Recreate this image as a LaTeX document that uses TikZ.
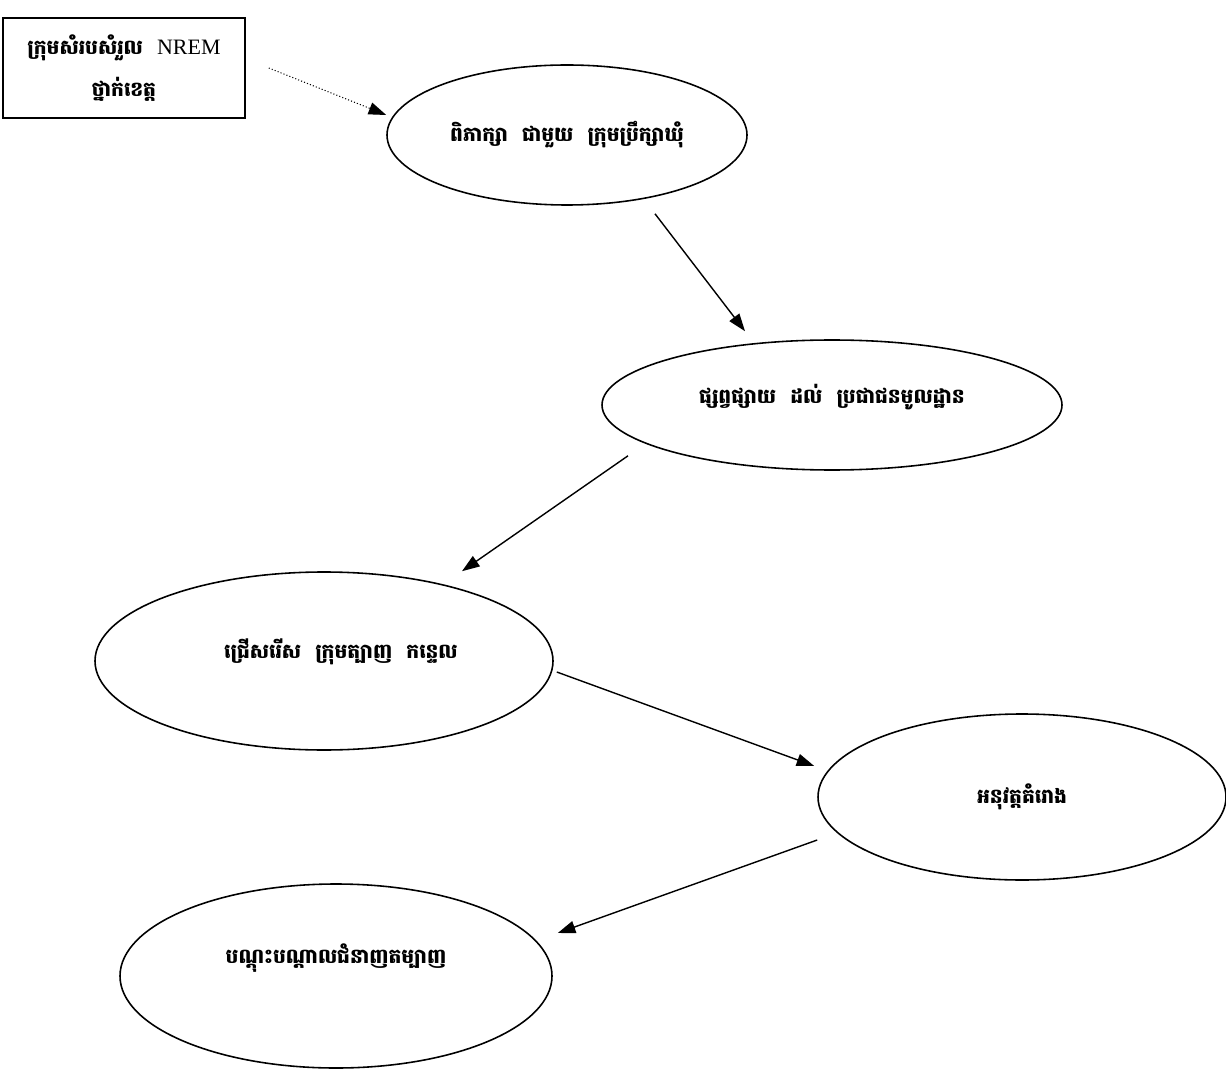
\documentclass[tikz,border=0pt]{standalone}
\usepackage{fontspec}
\setmainfont{Liberation Serif}
\newfontfamily\khmer[Script=Khmer]{Battambang}
\usetikzlibrary{shapes.geometric,arrows.meta}
\newcommand{\gap}{\hspace{0.7em}}
\begin{document}
\begin{tikzpicture}[
  x=1cm, y=1cm,
  kmtext/.style={font=\khmer\bfseries\fontsize{11.5}{13}\selectfont},
  bubble/.style={ellipse, draw, line width=0.9pt, inner sep=0pt, kmtext},
  inner/.style={kmtext, inner sep=0pt},
  flow/.style={-{Triangle[length=10pt,width=7pt]}, line width=0.8pt},
]
\useasboundingbox (0,0) rectangle (24.52,-21.46);
% provincial coordination team (top-left box)
\node[draw, line width=0.9pt, minimum width=4.84cm, minimum height=2cm,
  align=center, kmtext] (team) at (2.48,-1.36)
  {ក្រុមសំរបសំរួល\gap{\normalfont\fontsize{12.5}{14}\selectfont NREM}\\[8pt] ថ្នាក់ខេត្ត};
% process steps, one ellipse each (text sits a little above centre)
\node[bubble, minimum width=7.2cm, minimum height=2.8cm] (talk) at (11.34,-2.70)
  {ពិភាក្សា\gap ជាមួយ\gap ក្រុមប្រឹក្សាឃុំ};
\node[bubble, minimum width=9.2cm, minimum height=2.6cm,
  label={[inner, yshift=0.16cm]center:ផ្សព្វផ្សាយ\gap ដល់\gap ប្រជាជនមូលដ្ឋាន}]
  (spread) at (16.64,-8.10) {};
\node[bubble, minimum width=9.16cm, minimum height=3.56cm,
  label={[inner, xshift=0.34cm, yshift=0.18cm]center:ជ្រើសរើស\gap ក្រុមត្បាញ\gap កន្ទេល}]
  (select) at (6.48,-13.22) {};
\node[bubble, minimum width=8.16cm, minimum height=3.32cm] (run) at (20.44,-15.94)
  {អនុវត្តគំរោង};
\node[bubble, minimum width=8.64cm, minimum height=3.68cm,
  label={[inner, yshift=0.36cm]center:បណ្តុះបណ្តាលជំនាញតម្បាញ}]
  (train) at (6.72,-19.52) {};
% arrows between the steps (ends offset from the outlines as drawn)
\draw[flow, line width=0.6pt, dash pattern=on 0.6pt off 1.2pt]
  ([xshift=0.46cm]team.east) -- ([yshift=0.4cm]talk.west);
\draw[flow] ([xshift=1.76cm,yshift=-0.16cm]talk.south)
  -- ([xshift=-1.74cm,yshift=0.16cm]spread.north);
\draw[flow] ([xshift=-4.08cm,yshift=0.30cm]spread.south)
  -- ([xshift=2.76cm]select.north);
\draw[flow] ([xshift=0.06cm,yshift=-0.22cm]select.east)
  -- ([xshift=-0.06cm,yshift=0.62cm]run.west);
\draw[flow] ([yshift=-0.86cm]run.west)
  -- ([xshift=0.1cm,yshift=0.86cm]train.east);
\end{tikzpicture}
\end{document}
